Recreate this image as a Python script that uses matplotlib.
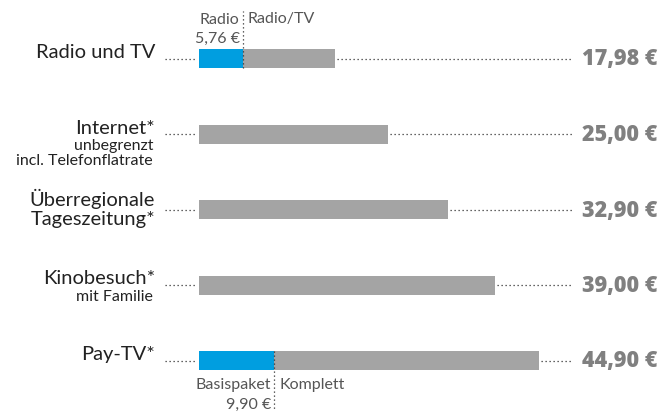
"""
Monthly cost comparison: radio/TV fee vs. other media offers.
"""

import matplotlib
matplotlib.use("Agg")
import matplotlib.pyplot as plt

plt.rcParams['font.family'] = ['Lato', 'DejaVu Sans']

labels = ["Radio und TV", "Internet*", "Überregionale\nTageszeitung*", "Kinobesuch*", "Pay-TV*"]
sublabels = ["", "unbegrenzt\nincl. Telefonflatrate", "", "mit Familie", ""]
totals = [17.98, 25.00, 32.90, 39.00, 44.90]
parts = [5.76, 0, 0, 0, 9.90]
part_names = ["Radio", "", "", "", "Basispaket"]
rest_names = ["Radio/TV", "", "", "", "Komplett"]

BLUE = "#009ee0"
GREY = "#a4a4a4"
VALUE = "#808080"
DARK = "#222222"

px_per_unit = 7.578
x0_px = 199
row0_px, row_px = 58.5, 75.5
W, H = 662, 412


def euro(v):
    return f"{v:.2f}".replace(".", ",") + " €"


fig = plt.figure(figsize=(W / 100, H / 100), dpi=100)
ax = fig.add_axes([0, 0, 1, 1])
ax.set_xlim(-x0_px / px_per_unit, (W - x0_px) / px_per_unit)
ax.set_ylim((H - row0_px) / row_px, -row0_px / row_px)
ax.axis('off')

bar_h = 19 / row_px
dot = dict(color="#333333", linewidth=0.9, linestyle=(0, (1, 2.2)))

for i, (lab, sub, tot, part) in enumerate(zip(labels, sublabels, totals, parts)):
    ax.barh(i, tot, height=bar_h, color=GREY, left=0)
    if part:
        ax.barh(i, part, height=bar_h, color=BLUE, left=0)

    # leader lines
    ax.plot([-34 / px_per_unit, -2 / px_per_unit], [i, i], **dot)
    ax.plot([tot + 2 / px_per_unit, (572 - x0_px) / px_per_unit], [i, i], **dot)

    ax.annotate(euro(tot), xy=((657 - x0_px) / px_per_unit, i), ha='right', va='center',
                fontsize=15.5, fontweight='heavy', color=VALUE, family='Open Sans',
                xytext=(0, -1), textcoords='offset pixels')

    lx = -44 / px_per_unit
    if "\n" in lab:
        ax.annotate(lab, xy=(lx, i), ha='right', va='center', fontsize=14.5, color=DARK,
                    linespacing=1.2, xytext=(0, 1), textcoords='offset pixels')
    else:
        ax.annotate(lab, xy=(lx, i), ha='right', va='center', fontsize=14.5, color=DARK,
                    xytext=(0, 6), textcoords='offset pixels')
    if sub:
        ax.annotate(sub, xy=(lx - 2 / px_per_unit, i), ha='right', va='top', fontsize=11.5,
                    color=DARK, linespacing=1.1, xytext=(0, -5), textcoords='offset pixels')

# split annotations for the two stacked bars
for i, (part, pn, rn) in enumerate(zip(parts, part_names, rest_names)):
    if not part:
        continue
    if i == 0:
        ax.plot([part, part], [i + bar_h / 2, (11 - row0_px) / row_px], **dot)
        ya, yb = i - 39 / row_px, i - 20 / row_px
    else:
        ax.plot([part, part], [i - bar_h / 2, (411 - row0_px) / row_px], **dot)
        ya, yb = i + 25 / row_px, i + 44 / row_px
    ax.text(part - 3 / px_per_unit, ya, pn, ha='right', va='center', fontsize=11.5, color="#555555")
    ax.text(part - 3 / px_per_unit, yb, euro(part), ha='right', va='center', fontsize=11.5,
            color="#555555")
    ax.text(part + 5 / px_per_unit, ya, rn, ha='left', va='center', fontsize=11.5, color="#555555")

fig.savefig("out.png", dpi=100)
